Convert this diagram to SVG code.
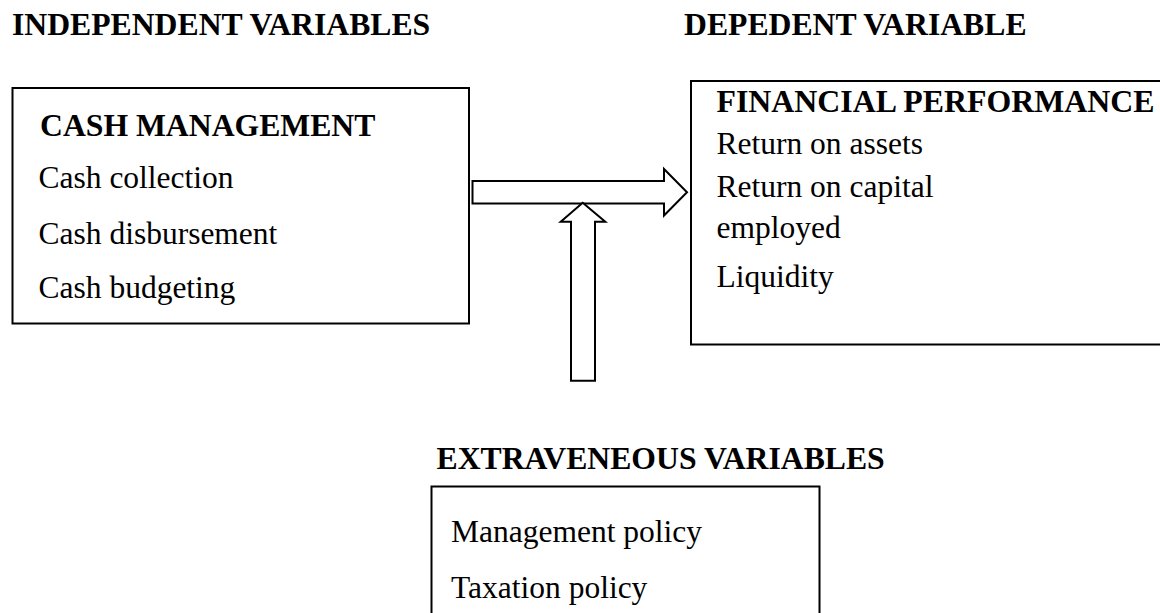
<svg xmlns="http://www.w3.org/2000/svg" width="1160" height="613" viewBox="0 0 1160 613">
<style>
text{font-family:"Liberation Serif","Times New Roman",serif;fill:#000}
.h{font-weight:bold;font-size:31.7px}
.t{font-size:31.5px}
.box{fill:#fff;stroke:#000;stroke-width:2}
.arr{fill:#fff;stroke:#000;stroke-width:2;stroke-linejoin:miter}
</style>
<rect width="1160" height="613" fill="#fff"/>
<text class="h" x="12" y="35">INDEPENDENT VARIABLES</text>
<text class="h" x="684" y="35">DEPEDENT VARIABLE</text>
<g id="cash-management">
<rect class="box" x="12.5" y="88" width="456.5" height="235.5"/>
<text class="h" x="40" y="136">CASH MANAGEMENT</text>
<text class="t" x="38.5" y="188">Cash collection</text>
<text class="t" x="38.5" y="244">Cash disbursement</text>
<text class="t" x="38.5" y="298">Cash budgeting</text>
</g>
<g id="financial-performance">
<rect class="box" x="691" y="81" width="480" height="263.5"/>
<text class="h" x="716.5" y="111.5" textLength="438" lengthAdjust="spacingAndGlyphs">FINANCIAL PERFORMANCE</text>
<text class="t" x="716.5" y="154">Return on assets</text>
<text class="t" x="716.5" y="196.5">Return on capital</text>
<text class="t" x="716.5" y="238">employed</text>
<text class="t" x="716.5" y="286.5">Liquidity</text>
</g>
<g id="extraneous-variables">
<text class="h" x="436.5" y="469">EXTRAVENEOUS VARIABLES</text>
<rect class="box" x="431.5" y="486.5" width="388" height="140"/>
<text class="t" x="451" y="541.5">Management policy</text>
<text class="t" x="451" y="598">Taxation policy</text>
</g>
<g id="connectors">
<polygon class="arr" points="472.5,181 664,181 664,169 687,192.3 664,215.5 664,203.5 472.5,203.5"/>
<polygon class="arr" points="582.7,202.7 605.3,221.7 595,221.7 595,380.7 571,380.7 571,221.7 560.7,221.7"/>
</g>
</svg>
